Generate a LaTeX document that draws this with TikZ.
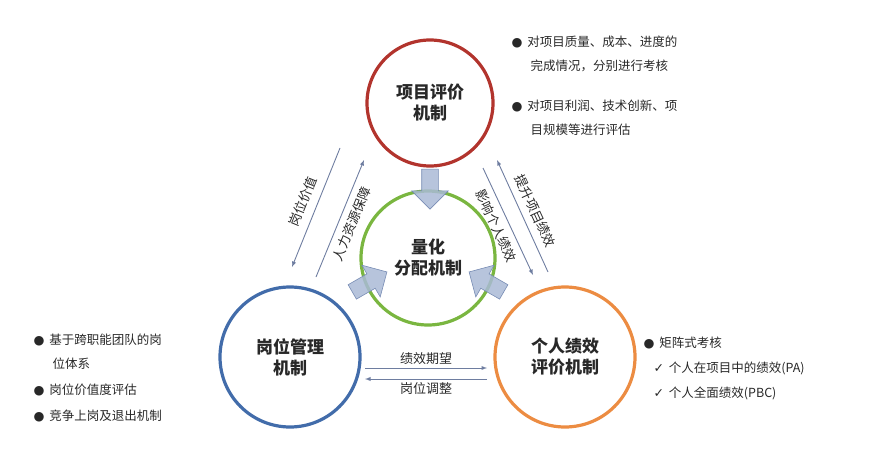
\documentclass[tikz,border=0pt]{standalone}
\usepackage{fontspec}
\setmainfont{Noto Sans CJK SC}
\newfontfamily\symfont{DejaVu Sans}
\usetikzlibrary{arrows, shapes.arrows}
\definecolor{redring}{RGB}{178,52,45}
\definecolor{greenring}{RGB}{122,182,64}
\definecolor{bluering}{RGB}{66,108,170}
\definecolor{orangering}{RGB}{236,140,66}
\definecolor{fatfill}{RGB}{170,186,214}
\definecolor{fatline}{RGB}{120,140,180}
\definecolor{thinline}{RGB}{110,125,160}
\definecolor{txt}{RGB}{40,40,40}
\tikzset{
  ring/.style={circle, line width=3.2pt, minimum size=#1, align=center,
               font=\fontsize{17}{21}\selectfont\bfseries, text=txt},
  flow/.style={draw=thinline, line width=0.9pt, arrows={-latex}},
  flowlabel/.style={font=\fontsize{13}{14}\selectfont, text=txt},
  fat/.style={single arrow, draw=fatline, fill=fatfill, fill opacity=0.85,
              line width=0.6pt, minimum height=40pt, inner sep=0pt,
              text width=0pt, text height=16pt,
              single arrow head extend=10pt, single arrow head indent=0pt},
  note/.style={anchor=west, font=\fontsize{12.5}{15}\selectfont, text=txt}
}
\begin{document}
\begin{tikzpicture}[x=1pt, y=-1pt]
  \useasboundingbox (0, 0) rectangle (896, 460);

  % Draw circles.
  \node [ring=126pt, draw=redring] (proj) at (430, 103) {项目评价\\机制};
  \node [ring=134pt, draw=greenring] (quant) at (428, 258) {量化\\分配机制};
  \node [ring=140pt, draw=bluering] (post) at (290, 357) {岗位管理\\机制};
  \node [ring=140pt, draw=orangering] (pers) at (565, 357) {个人绩效\\评价机制};

  % Draw fat arrows into the centre.
  \node [fat, rotate=-90] (fa1) at (430, 185) {};
  \node [fat, rotate=30] (fa2) at (366, 284) {};
  \node [fat, rotate=150] (fa3) at (490, 284) {};

  % Draw thin arrows.
  \coordinate (l1s) at (340, 148); \coordinate (l1e) at (292, 267);
  \coordinate (l2s) at (316, 277); \coordinate (l2e) at (364, 160);
  \coordinate (r1s) at (483, 168); \coordinate (r1e) at (533, 275);
  \coordinate (r2s) at (548, 272); \coordinate (r2e) at (497, 160);
  \draw [flow] (l1s) -- (l1e);
  \draw [flow] (l2s) -- (l2e);
  \draw [flow] (r1s) -- (r1e);
  \draw [flow] (r2s) -- (r2e);
  \node [flowlabel, rotate=68] (lt1) at (303, 202) {岗位价值};
  \node [flowlabel, rotate=68] (lt2) at (352, 224) {人力资源保障};
  \node [flowlabel, rotate=-65] (rt1) at (496, 226) {影响个人绩效};
  \node [flowlabel, rotate=-65] (rt2) at (535, 211) {提升项目绩效};

  \coordinate (b1s) at (365, 368); \coordinate (b1e) at (487, 368);
  \coordinate (b2s) at (487, 379); \coordinate (b2e) at (365, 379);
  \draw [flow] (b1s) -- (b1e) node [midway, above, flowlabel] {绩效期望};
  \draw [flow] (b2s) -- (b2e) node [midway, below, flowlabel] {岗位调整};

  % Draw notes.
  \node [note] (t1) at (508, 42) {{\symfont ●}\, 对项目质量、成本、进度的};
  \node [note] (t2) at (527, 66) {完成情况，分别进行考核};
  \node [note] (t3) at (508, 106) {{\symfont ●}\, 对项目利润、技术创新、项};
  \node [note] (t4) at (527, 130) {目规模等进行评估};

  \node [note] (l1) at (30, 340) {{\symfont ●}\, 基于跨职能团队的岗};
  \node [note] (l2) at (49, 364) {位体系};
  \node [note] (l3) at (30, 390) {{\symfont ●}\, 岗位价值度评估};
  \node [note] (l4) at (30, 416) {{\symfont ●}\, 竞争上岗及退出机制};

  \node [note] (p1) at (640, 343) {{\symfont ●}\, 矩阵式考核};
  \node [note] (p2) at (650, 368) {{\symfont ✓}\, 个人在项目中的绩效(PA)};
  \node [note] (p3) at (650, 393) {{\symfont ✓}\, 个人全面绩效(PBC)};
\end{tikzpicture}
\end{document}
